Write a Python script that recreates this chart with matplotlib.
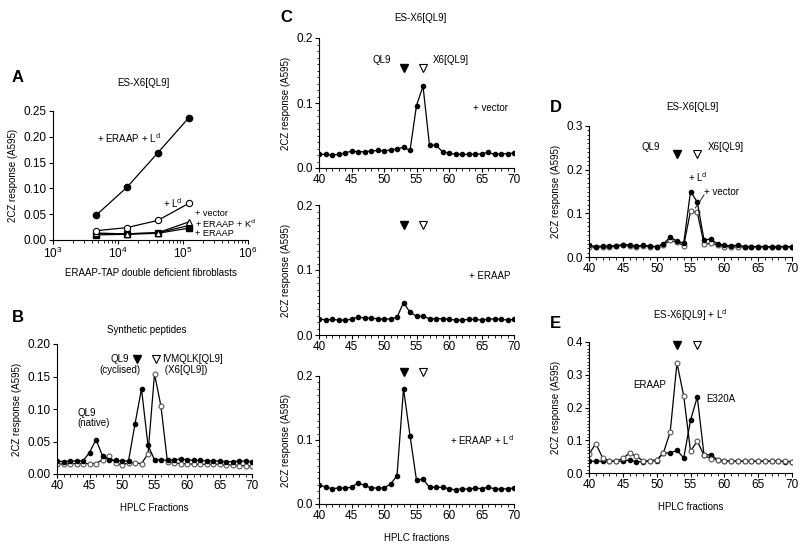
import matplotlib
matplotlib.use("Agg")
import matplotlib.pyplot as plt
from matplotlib.ticker import MultipleLocator, LogLocator, NullFormatter
import numpy as np

plt.rcParams['font.family'] = ['Liberation Sans', 'DejaVu Sans']

# ---------------- Data ----------------
# Panel A
cells = [4.6e3, 1.37e4, 4.1e4, 1.23e5]
a_eraap_ld = [0.048, 0.102, 0.169, 0.237]
a_ld = [0.018, 0.024, 0.038, 0.071]
a_vector = [0.013, 0.012, 0.014, 0.035]
a_eraap_kd = [0.013, 0.012, 0.014, 0.028]
a_eraap = [0.010, 0.011, 0.013, 0.023]

fractions = list(range(40, 71))

# Panel B
b_cyclised = [0.020, 0.019, 0.020, 0.020, 0.020, 0.033, 0.053, 0.028, 0.022, 0.021,
              0.020, 0.020, 0.077, 0.131, 0.044, 0.022, 0.022, 0.021, 0.022, 0.023,
              0.022, 0.021, 0.021, 0.020, 0.020, 0.020, 0.019, 0.019, 0.020, 0.020, 0.019]
b_x6 = [0.016, 0.015, 0.016, 0.016, 0.016, 0.016, 0.016, 0.022, 0.027, 0.017,
        0.014, 0.017, 0.017, 0.016, 0.031, 0.154, 0.104, 0.018, 0.017, 0.016,
        0.016, 0.015, 0.015, 0.015, 0.015, 0.015, 0.014, 0.014, 0.013, 0.013, 0.012]

# Panel C
c_vector = [0.021, 0.021, 0.020, 0.021, 0.023, 0.026, 0.025, 0.025, 0.026, 0.027,
            0.026, 0.028, 0.029, 0.032, 0.027, 0.096, 0.126, 0.035, 0.035, 0.025,
            0.023, 0.021, 0.021, 0.021, 0.021, 0.022, 0.024, 0.021, 0.022, 0.022, 0.023]
c_eraap = [0.025, 0.023, 0.024, 0.023, 0.023, 0.024, 0.028, 0.026, 0.026, 0.025,
           0.024, 0.025, 0.027, 0.050, 0.035, 0.029, 0.029, 0.025, 0.025, 0.025,
           0.024, 0.023, 0.023, 0.024, 0.024, 0.023, 0.024, 0.025, 0.024, 0.023, 0.024]
c_eraap_ld = [0.029, 0.027, 0.024, 0.025, 0.025, 0.026, 0.033, 0.029, 0.025, 0.025,
              0.025, 0.031, 0.044, 0.180, 0.107, 0.037, 0.039, 0.026, 0.026, 0.026,
              0.024, 0.022, 0.024, 0.023, 0.025, 0.024, 0.026, 0.024, 0.023, 0.024, 0.025]

# Panel D
d_ld = [0.027, 0.024, 0.025, 0.025, 0.026, 0.028, 0.028, 0.025, 0.027, 0.025,
        0.024, 0.030, 0.046, 0.036, 0.032, 0.150, 0.126, 0.039, 0.041, 0.030,
        0.027, 0.026, 0.027, 0.024, 0.024, 0.024, 0.024, 0.023, 0.024, 0.024, 0.024]
d_vector = [0.024, 0.022, 0.023, 0.023, 0.025, 0.027, 0.025, 0.024, 0.025, 0.024,
            0.023, 0.028, 0.038, 0.034, 0.026, 0.105, 0.102, 0.030, 0.031, 0.028,
            0.024, 0.023, 0.023, 0.023, 0.023, 0.023, 0.023, 0.023, 0.023, 0.023, 0.023]

# Panel E
e_eraap = [0.057, 0.090, 0.047, 0.037, 0.036, 0.045, 0.061, 0.051, 0.037, 0.038,
           0.040, 0.062, 0.125, 0.336, 0.235, 0.067, 0.097, 0.054, 0.044, 0.041,
           0.037, 0.036, 0.036, 0.036, 0.036, 0.036, 0.036, 0.036, 0.036, 0.036, 0.035]
e_e320a = [0.036, 0.036, 0.036, 0.036, 0.036, 0.036, 0.040, 0.035, 0.034, 0.037,
           0.038, 0.061, 0.061, 0.069, 0.046, 0.161, 0.232, 0.055, 0.056, 0.040,
           0.037, 0.036, 0.036, 0.036, 0.036, 0.036, 0.036, 0.036, 0.036, 0.035, 0.034]

QL9_POS = 53
X6_POS = 56

# ---------------- Figure ----------------
fig = plt.figure(figsize=(8.0, 5.47), dpi=100)

TICK_FS = 8.5
LAB_FS = 7
TXT_FS = 7
LET_FS = 12


def frame(rect):
    ax = fig.add_axes(rect)
    for s in ['top', 'right']:
        ax.spines[s].set_visible(False)
    for s in ['left', 'bottom']:
        ax.spines[s].set_linewidth(0.8)
    ax.tick_params(labelsize=TICK_FS, length=3, width=0.8, pad=1.5)
    ax.tick_params(which='minor', length=1.8, width=0.6)
    return ax


def fr(x0, y0, x1, y1):
    return [x0 / 800, 1 - y1 / 547, (x1 - x0) / 800, (y1 - y0) / 547]


def hplc(ax, ymax, ymajor, yminor, fmt):
    ax.set_xlim(40, 70)
    ax.set_ylim(0, ymax)
    ax.xaxis.set_major_locator(MultipleLocator(5))
    ax.xaxis.set_minor_locator(MultipleLocator(1))
    ax.yaxis.set_major_locator(MultipleLocator(ymajor))
    if yminor:
        ax.yaxis.set_minor_locator(MultipleLocator(yminor))
    ax.yaxis.set_major_formatter(plt.FormatStrFormatter(fmt))
    ax.set_ylabel('2CZ response (A595)', fontsize=LAB_FS, labelpad=4)


def tri(ax, y):
    ax.plot([QL9_POS], [y], marker='v', color='black', markersize=6, clip_on=False, ls='none')
    ax.plot([X6_POS], [y], marker='v', mfc='white', mec='black', mew=0.8, markersize=6,
            clip_on=False, ls='none')


line_kw = dict(color='black', lw=0.9)
filled = dict(marker='o', markersize=3.0, mfc='black', mec='black', **line_kw)
opened = dict(marker='o', markersize=3.5, mfc='white', mec='#555555', mew=0.8, **line_kw)

# ---- Panel A ----
axA = frame(fr(53, 111, 248, 240))
axA.set_xscale('log')
axA.set_xlim(1e3, 1e6)
axA.set_ylim(0, 0.25)
axA.yaxis.set_major_locator(MultipleLocator(0.05))
axA.yaxis.set_major_formatter(plt.FormatStrFormatter('%.2f'))
axA.xaxis.set_major_locator(LogLocator(base=10, numticks=10))
axA.xaxis.set_minor_locator(LogLocator(base=10, subs=np.arange(2, 10), numticks=20))
axA.xaxis.set_minor_formatter(NullFormatter())
axA.plot(cells, a_eraap, marker='s', markersize=4, mfc='black', mec='black', **line_kw)
axA.plot(cells, a_eraap_kd, marker='^', markersize=4, mfc='black', mec='black', **line_kw)
axA.plot(cells, a_vector, marker='^', markersize=4.5, mfc='white', mec='black', mew=0.8, **line_kw)
axA.plot(cells, a_ld, marker='o', markersize=4.5, mfc='white', mec='black', mew=0.8, **line_kw)
axA.plot(cells, a_eraap_ld, marker='o', markersize=4.5, mfc='black', mec='black', **line_kw)
axA.text(10**3.68, 0.198, '+ ERAAP + L$^{\\mathrm{d}}$', fontsize=TXT_FS, va='center')
axA.text(10**4.69, 0.072, '+ L$^{\\mathrm{d}}$', fontsize=TXT_FS, va='center')
axA.text(10**5.18, 0.052, '+ vector', fontsize=6.6, va='center')
axA.text(10**5.18, 0.032, '+ ERAAP + K$^{\\mathrm{d}}$', fontsize=6.6, va='center')
axA.text(10**5.18, 0.012, '+ ERAAP', fontsize=6.6, va='center')
axA.set_ylabel('2CZ response (A595)', fontsize=LAB_FS, labelpad=4)
axA.set_xlabel('ERAAP-TAP double deficient fibroblasts', fontsize=LAB_FS, labelpad=5)
fig.text(143 / 800, 1 - 83 / 547, 'ES-X6[QL9]', fontsize=LAB_FS, ha='center', va='center')
fig.text(12 / 800, 1 - 77 / 547, 'A', fontsize=LET_FS, fontweight='bold', va='center')

# ---- Panel B ----
axB = frame(fr(57, 344, 252, 474))
hplc(axB, 0.20, 0.05, None, '%.2f')
axB.plot(fractions, b_x6, **opened)
axB.plot(fractions, b_cyclised, **filled)
axB.plot([52.3], [0.177], marker='v', color='black', markersize=6, ls='none', clip_on=False)
axB.plot([55.2], [0.177], marker='v', mfc='white', mec='black', mew=0.8, markersize=6, ls='none', clip_on=False)
axB.text(49.7, 0.168, 'QL9\n(cyclised)', fontsize=TXT_FS, ha='center', va='center', linespacing=1.1)
axB.text(56.2, 0.168, 'IVMQLK[QL9]\n (X6[QL9])', fontsize=TXT_FS, ha='left', va='center', linespacing=1.1)
axB.text(43.1, 0.086, 'QL9\n(native)', fontsize=TXT_FS, ha='left', va='center', linespacing=1.1)
axB.set_xlabel('HPLC Fractions', fontsize=LAB_FS, labelpad=8)
fig.text(147 / 800, 1 - 330 / 547, 'Synthetic peptides', fontsize=LAB_FS, ha='center', va='center')
fig.text(12 / 800, 1 - 317 / 547, 'B', fontsize=LET_FS, fontweight='bold', va='center')

# ---- Panel C ----
axC1 = frame(fr(319, 38, 514, 168))
hplc(axC1, 0.2, 0.1, 0.01, '%.1f')
axC1.plot(fractions, c_vector, **filled)
tri(axC1, 0.154)
axC1.text(48.2, 0.166, 'QL9', fontsize=TXT_FS, va='center')
axC1.text(57.5, 0.166, 'X6[QL9]', fontsize=TXT_FS, va='center')
axC1.text(63.7, 0.092, '+ vector', fontsize=TXT_FS, va='center')
fig.text(420 / 800, 1 - 18 / 547, 'ES-X6[QL9]', fontsize=LAB_FS, ha='center', va='center')
fig.text(280 / 800, 1 - 17 / 547, 'C', fontsize=LET_FS, fontweight='bold', va='center')

axC2 = frame(fr(319, 205, 514, 335))
hplc(axC2, 0.2, 0.1, 0.01, '%.1f')
axC2.plot(fractions, c_eraap, **filled)
tri(axC2, 0.169)
axC2.text(63.1, 0.091, '+ ERAAP', fontsize=TXT_FS, va='center')

axC3 = frame(fr(319, 376, 514, 504))
hplc(axC3, 0.2, 0.1, 0.01, '%.1f')
axC3.plot(fractions, c_eraap_ld, **filled)
tri(axC3, 0.206)
axC3.text(60.2, 0.100, '+ ERAAP + L$^{\\mathrm{d}}$', fontsize=TXT_FS, va='center')
axC3.set_xlabel('HPLC fractions', fontsize=LAB_FS, labelpad=8)

# ---- Panel D ----
axD = frame(fr(589, 126, 792, 257))
hplc(axD, 0.3, 0.1, 0.01, '%.1f')
axD.plot(fractions, d_vector, **opened)
axD.plot(fractions, d_ld, **filled)
tri(axD, 0.236)
axD.text(47.8, 0.252, 'QL9', fontsize=TXT_FS, va='center')
axD.text(57.6, 0.252, 'X6[QL9]', fontsize=TXT_FS, va='center')
axD.text(54.6, 0.183, '+ L$^{\\mathrm{d}}$', fontsize=TXT_FS, va='center')
axD.text(57.0, 0.149, '+ vector', fontsize=TXT_FS, va='center')
axD.plot([57.0, 55.7], [0.142, 0.112], color='black', lw=0.6)
fig.text(692 / 800, 1 - 107 / 547, 'ES-X6[QL9]', fontsize=LAB_FS, ha='center', va='center')
fig.text(550 / 800, 1 - 108 / 547, 'D', fontsize=LET_FS, fontweight='bold', va='center')

# ---- Panel E ----
axE = frame(fr(589, 342, 792, 473))
hplc(axE, 0.4, 0.1, 0.01, '%.1f')
axE.plot(fractions, e_e320a, **filled)
axE.plot(fractions, e_eraap, **opened)
tri(axE, 0.39)
axE.text(46.5, 0.269, 'ERAAP', fontsize=TXT_FS, va='center')
axE.text(57.3, 0.226, 'E320A', fontsize=TXT_FS, va='center')
axE.set_xlabel('HPLC fractions', fontsize=LAB_FS, labelpad=8)
fig.text(690 / 800, 1 - 315 / 547, 'ES-X6[QL9] + L$^{\\mathrm{d}}$', fontsize=LAB_FS, ha='center', va='center')
fig.text(550 / 800, 1 - 323 / 547, 'E', fontsize=LET_FS, fontweight='bold', va='center')

fig.savefig('out.png', dpi=100)
